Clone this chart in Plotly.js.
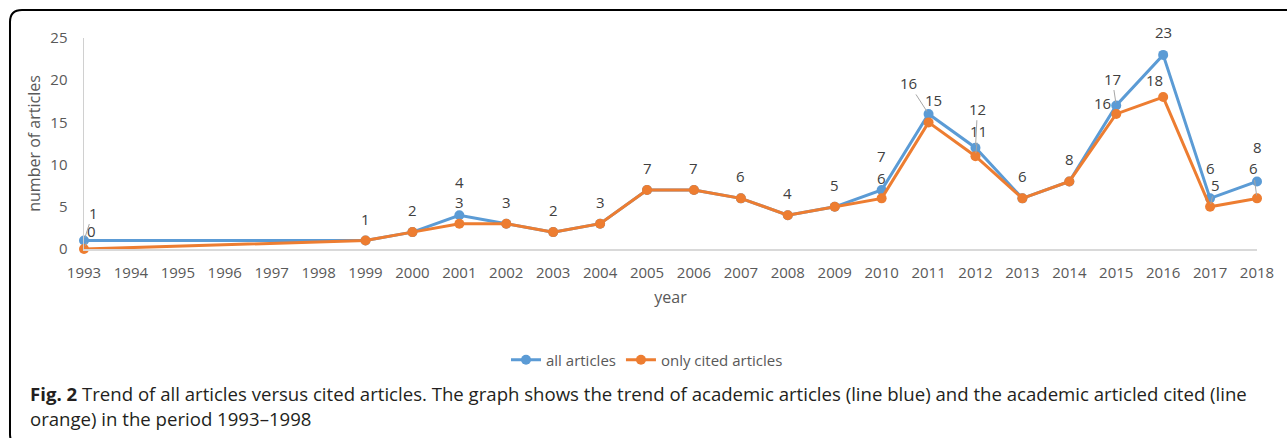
<!DOCTYPE html>
<html>
<head>
<meta charset="utf-8">
<script src="https://cdn.plot.ly/plotly-3.0.1.min.js"></script>
<style>
  html, body { margin: 0; padding: 0; background: #ffffff; }
  #chart { width: 1287px; height: 438px; }
</style>
</head>
<body>
<div id="chart"></div>
<script>
// ---- data ----
const years = [1993, 1999, 2000, 2001, 2002, 2003, 2004, 2005, 2006, 2007, 2008, 2009, 2010, 2011, 2012, 2013, 2014, 2015, 2016, 2017, 2018];
const allArticles = [1, 1, 2, 4, 3, 2, 3, 7, 7, 6, 4, 5, 7, 16, 12, 6, 8, 17, 23, 6, 8];
const citedArticles = [0, 1, 2, 3, 3, 2, 3, 7, 7, 6, 4, 5, 6, 15, 11, 6, 8, 16, 18, 5, 6];
const seriesNames = ['all articles', 'only cited articles'];
const xTitle = 'year';
const yTitle = 'number of articles';
const captionBold = 'Fig. 2';
const captionLine1 = ' Trend of all articles versus cited articles. The graph shows the trend of academic articles (line blue) and the academic articled cited (line';
const captionLine2 = 'orange) in the period 1993\u20131998';

// ---- label styling: pixel offsets of data labels [dx, dy, leader] ----
const defaultLabel = [0, -22, false];
const blueLabelStyle = {
  1993: [9, -28, true], 2001: [0, -33, false], 2010: [0, -34, false],
  2011: [-20, -31, true], 2012: [2, -39, true], 2015: [-4, -27, true],
  2016: [0, -23, false], 2017: [0, -30, false], 2018: [0, -34, false]
};
const orangeLabelStyle = {
  1993: [7, -18, true], 2010: [0, -20, false], 2011: [5, -22, false], 2012: [3, -25, true],
  2015: [-14, -11, false], 2016: [-9, -17, false], 2017: [5, -22, true],
  2018: [-4, -30, true]
};

// ---- geometry (pixels) ----
const W = 1287, H = 438;
const L = 84, R = 1257, T = 38, B = 249;
const px = x => (x - L) / (R - L);
const py = y => (B - y) / (B - T);

const BLUE = '#5B9BD5', ORANGE = '#ED7D31';
const FONT = '"Open Sans", "Noto Sans", sans-serif';
const GRAY = '#595959';

const traces = [
  {
    x: years, y: allArticles, name: seriesNames[0], type: 'scatter', mode: 'lines+markers',
    line: { color: BLUE, width: 3 }, marker: { color: BLUE, size: 10 }, cliponaxis: false
  },
  {
    x: years, y: citedArticles, name: seriesNames[1], type: 'scatter', mode: 'lines+markers',
    line: { color: ORANGE, width: 3 }, marker: { color: ORANGE, size: 10 }, cliponaxis: false
  }
];

function labelAnnots(xs, ys, style, skipWhenSame) {
  const out = [];
  xs.forEach((yr, i) => {
    const s = style[yr] || defaultLabel;
    if (skipWhenSame && skipWhenSame[i] === ys[i] && !style[yr]) return;
    out.push({
      x: yr, y: ys[i], xref: 'x', yref: 'y', text: String(ys[i]),
      showarrow: true, ax: s[0], ay: s[1], arrowhead: 0, arrowwidth: 1,
      arrowcolor: s[2] ? '#a6a6a6' : 'rgba(0,0,0,0)', standoff: 3,
      font: { family: FONT, size: 15, color: '#404040' }
    });
  });
  return out;
}

const annotations = []
  .concat(labelAnnots(years, citedArticles, orangeLabelStyle, null))
  .concat(labelAnnots(years, allArticles, blueLabelStyle, citedArticles));

annotations.push({
  xref: 'paper', yref: 'paper', x: px(28), y: py(393), xanchor: 'left', yanchor: 'middle',
  showarrow: false, align: 'left',
  text: '<b>' + captionBold + '</b>' + captionLine1,
  font: { family: FONT, size: 18.6, color: '#231f20' }
});
annotations.push({
  xref: 'paper', yref: 'paper', x: px(28), y: py(418), xanchor: 'left', yanchor: 'middle',
  showarrow: false, align: 'left', text: captionLine2,
  font: { family: FONT, size: 18.6, color: '#231f20' }
});

// frame with rounded left corners (in paper coords)
const framePath = [
  'M', px(1300), py(10), 'L', px(22), py(10),
  'Q', px(10), py(10), px(10), py(22),
  'L', px(10), py(434),
  'Q', px(10), py(446), px(22), py(446),
  'L', px(1300), py(446)
].map(v => typeof v === 'number' ? v.toFixed(5) : v).join(' ');

const layout = {
  width: W, height: H,
  margin: { l: L, r: W - R, t: T, b: H - B },
  paper_bgcolor: '#ffffff', plot_bgcolor: '#ffffff',
  showlegend: true,
  legend: {
    orientation: 'h', x: px(647), xanchor: 'center', y: py(360), yanchor: 'middle',
    font: { family: FONT, size: 15, color: GRAY }, itemwidth: 30
  },
  xaxis: {
    type: 'linear', range: [1993, 2018], tick0: 1993, dtick: 1,
    showgrid: false, zeroline: false, showline: true, linecolor: '#d9d9d9', linewidth: 1.5,
    ticks: '', ticklabelstandoff: 9,
    tickfont: { family: FONT, size: 15, color: GRAY },
    title: { text: xTitle, font: { family: FONT, size: 16, color: GRAY }, standoff: 11 }
  },
  yaxis: {
    range: [0, 25], dtick: 5, showgrid: false, zeroline: false,
    showline: true, linecolor: '#d0d0d0', linewidth: 1.5,
    ticks: '', ticklabelstandoff: 12,
    tickfont: { family: FONT, size: 15, color: GRAY },
    title: { text: yTitle, font: { family: FONT, size: 16, color: GRAY }, standoff: 5 }
  },
  annotations: annotations,
  shapes: [{
    type: 'path', xref: 'paper', yref: 'paper', path: framePath,
    line: { color: '#000000', width: 2 }, layer: 'above'
  }]
};

Plotly.newPlot('chart', traces, layout, { displayModeBar: false, staticPlot: true });
</script>
</body>
</html>
